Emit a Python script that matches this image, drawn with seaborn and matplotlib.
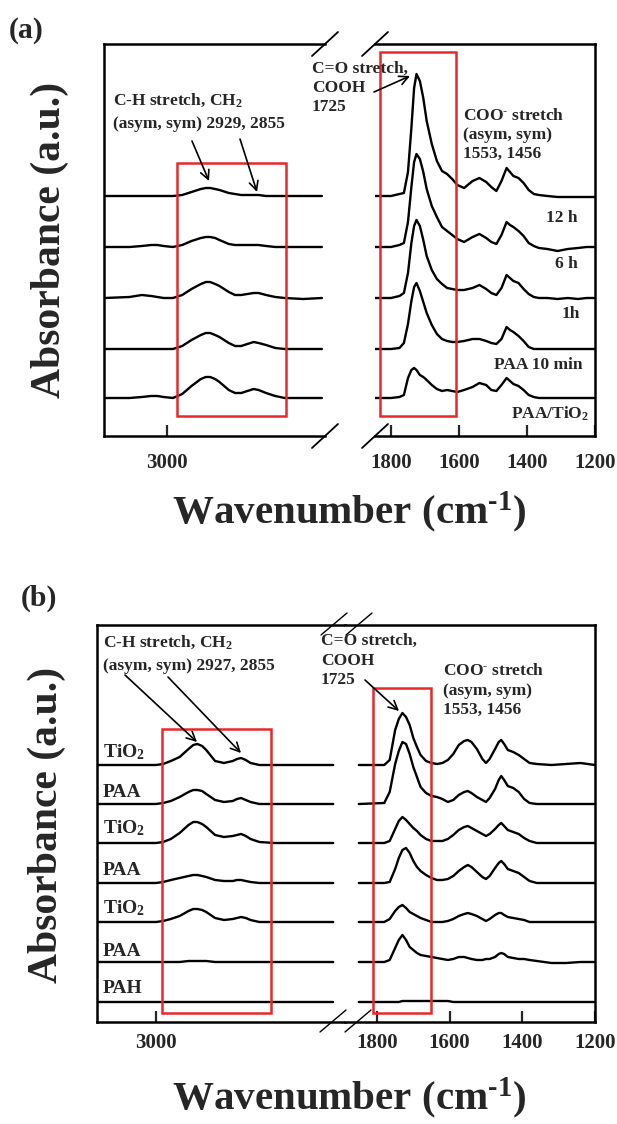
import matplotlib
matplotlib.use("Agg")
import matplotlib.pyplot as plt
from matplotlib.lines import Line2D
from matplotlib.patches import Rectangle, FancyArrowPatch
import seaborn as sns
import pandas as pd

# ---------------- panel (a): PAA on TiO2, adsorption time ----------------
A_WN_CH = [3100, 3060, 3040, 3025, 3015, 3005, 2990, 2975, 2960, 2945, 2937, 2930, 2922,
           2915, 2900, 2890, 2880, 2870, 2860, 2852, 2840, 2825, 2810, 2780, 2750]
A_12H_CH = [0, 0, 0, 0, 0, 0, 0, 1, 4, 7, 8, 8, 7, 6, 3, 2, 1, 1, 1, 1, 0, 0, 0, 0, 0]
A_6H_CH = [0, 0, 1, 2, 2, 1, 0, 2, 6, 9, 10, 10, 9, 7, 3, 2, 2, 2, 2, 2, 1, 0, 0, 0, 0]
A_1H_CH = [0, 1, 3, 2, 1, 0, 0, 3, 9, 14, 16, 16, 14, 12, 6, 3, 3, 4, 5, 5, 3, 1, 0, -1, 0]
A_10MIN_CH = [0, 0, 0, 0, 0, 0, 0, 3, 9, 14, 16, 16, 14, 12, 6, 3, 3, 5, 7, 6, 4, 1, 0, 0, 0]
A_PAATIO2_CH = [0, 0, 1, 2, 2, 1, 0, 4, 12, 19, 21, 21, 19, 16, 8, 5, 5, 7, 9, 8, 5, 2, 0, 0, 0]

A_WN_CO = [1850, 1800, 1775, 1762, 1750, 1740, 1732, 1725, 1715, 1705, 1695, 1680, 1665,
           1650, 1635, 1620, 1605, 1585, 1560, 1540, 1520, 1505, 1490, 1475, 1460, 1450,
           1440, 1425, 1410, 1395, 1380, 1365, 1340, 1310, 1280, 1250, 1225, 1200]
A_12H_CO = [0, 0, 2, 3, 24, 68, 108, 122, 115, 98, 75, 52, 35, 25, 22, 17, 11, 8, 15, 18,
            14, 9, 5, 15, 28, 24, 20, 18, 13, 6, 2, 1, 0, -1, -1, -1, -1, -1]
A_6H_CO = [0, 0, 2, 4, 25, 60, 85, 93, 88, 75, 58, 41, 30, 20, 16, 12, 8, 5, 10, 13,
           9, 5, 3, 12, 25, 22, 20, 16, 11, 4, 1, -1, -2, -4, -2, -1, 0, 0]
A_1H_CO = [0, 0, 2, 5, 25, 55, 72, 78, 72, 58, 42, 28, 19, 14, 10, 9, 8, 8, 10, 13,
           9, 5, 3, 10, 23, 20, 17, 15, 9, 4, 1, 0, 0, -1, 0, -1, 0, 0]
A_10MIN_CO = [0, 0, 1, 6, 25, 48, 62, 66, 58, 47, 36, 24, 15, 10, 8, 7, 7, 8, 10, 10,
              8, 6, 5, 10, 22, 19, 17, 13, 8, 2, 0, 0, 0, 0, 0, 0, 0, 0]
A_PAATIO2_CO = [0, 0, 1, 3, 20, 28, 30, 28, 23, 21, 18, 13, 9, 7, 8, 7, 6, 8, 11, 15,
                13, 8, 7, 13, 20, 17, 14, 12, 8, 3, 1, 0, 0, 0, 0, 0, 0, 0]

A_LABELS = ["12 h", "6 h", "1h", "PAA 10 min", "PAA/TiO$_2$"]
A_OFFSETS = [240, 189, 138, 87, 38]

# ---------------- panel (b): layer-by-layer PAH/PAA/TiO2 ----------------
B_WN_CH = [3100, 3050, 3000, 2988, 2975, 2960, 2945, 2937, 2930, 2922, 2915, 2900,
           2885, 2870, 2863, 2856, 2848, 2840, 2825, 2800, 2750, 2700]
B_TIO2_3_CH = [0, 0, 0, 1, 4, 8, 16, 20, 21, 19, 15, 4, 2, 4, 6, 7, 5, 2, 0, 0, 0, 0]
B_PAA_3_CH = [0, 0, 0, 1, 3, 7, 12, 14, 14, 13, 10, 4, 2, 3, 5, 6, 4, 2, 0, 0, 0, 0]
B_TIO2_2_CH = [0, 0, 0, 1, 4, 10, 18, 21, 21, 19, 16, 8, 6, 7, 8, 9, 7, 4, 1, 0, 0, 0]
B_PAA_2_CH = [0, 0, 0, 1, 3, 5, 7, 8, 8, 7, 6, 3, 2, 2, 3, 3, 2, 1, 0, 0, 0, 0]
B_TIO2_1_CH = [0, 0, 0, 1, 3, 6, 11, 13, 13, 12, 10, 4, 2, 3, 4, 5, 4, 2, 0, 0, 0, 0]
B_PAA_1_CH = [0, 0, 0, 0, 0, 0, 1, 1, 1, 1, 1, 0, 0, 0, 0, 0, 0, 0, 0, 0, 0, 0]
B_PAH_CH = [0, 0, 0, 0, 0, 0, 0, 0, 0, 0, 0, 0, 0, 0, 0, 0, 0, 0, 0, 0, 0, 0]

B_WN_CO = [1850, 1780, 1765, 1750, 1740, 1730, 1720, 1710, 1700, 1690, 1680, 1665, 1650,
           1635, 1620, 1605, 1590, 1575, 1560, 1550, 1540, 1525, 1510, 1500, 1490, 1475,
           1465, 1458, 1450, 1440, 1425, 1410, 1395, 1380, 1360, 1320, 1280, 1240, 1200]
B_TIO2_3_CO = [0, 0, 5, 35, 46, 52, 48, 40, 27, 18, 10, 4, 2, 1, 2, 5, 11, 20, 24, 25,
               23, 16, 6, 2, 6, 16, 23, 25, 21, 15, 13, 10, 6, 2, 1, 0, 1, 2, 0]
B_PAA_3_CO = [0, 1, 12, 40, 53, 62, 60, 50, 37, 27, 17, 11, 8, 7, 5, 2, 4, 9, 12, 13,
              11, 7, 4, 2, 6, 15, 24, 28, 24, 18, 16, 12, 5, 1, 0, 0, 0, 0, 0]
B_TIO2_2_CO = [0, 0, 2, 14, 22, 26, 23, 19, 15, 12, 8, 4, 2, 2, 2, 4, 8, 13, 16, 17,
               15, 12, 9, 7, 9, 14, 18, 20, 17, 13, 11, 9, 5, 2, 0, 0, 0, 0, 0]
B_PAA_2_CO = [0, 0, 1, 14, 25, 33, 35, 30, 22, 16, 12, 8, 5, 3, 3, 4, 7, 12, 16, 18,
              16, 11, 6, 4, 7, 15, 20, 22, 19, 14, 12, 10, 6, 2, 0, 0, 0, 0, 0]
B_TIO2_1_CO = [0, 0, 3, 11, 15, 17, 14, 10, 8, 6, 4, 2, 0, 0, 0, 1, 3, 6, 8, 9,
               8, 6, 3, 1, 3, 7, 9, 9, 7, 5, 4, 3, 2, 0, 0, 0, 0, 0, 0]
B_PAA_1_CO = [0, 0, 2, 14, 22, 27, 22, 15, 12, 9, 7, 6, 5, 4, 3, 2, 3, 5, 5, 4,
              3, 2, 2, 3, 3, 5, 8, 9, 8, 5, 4, 3, 3, 2, 1, -1, -1, 0, 0]
B_PAH_CO = [0, 0, 0, 0, 0, 1, 1, 1, 1, 1, 1, 1, 1, 1, 1, 1, 0, 0, 0, 0,
            0, 0, 0, 0, 0, 0, 0, 0, 0, 0, 0, 0, 0, 0, 0, 0, 0, 0, 0]

B_LABELS = ["TiO$_2$", "PAA", "TiO$_2$", "PAA", "TiO$_2$", "PAA", "PAH"]
B_OFFSETS = [257, 218, 179, 139, 100, 60, 20]

# ---------------- style ----------------
sns.set_theme(style="ticks")
plt.rcParams["font.family"] = ["Liberation Serif", "DejaVu Serif"]
plt.rcParams["font.weight"] = "bold"
plt.rcParams["mathtext.fontset"] = "custom"
plt.rcParams["mathtext.rm"] = "Liberation Serif:bold"
plt.rcParams["mathtext.bf"] = "Liberation Serif:bold"
plt.rcParams["mathtext.it"] = "Liberation Serif:bold"
plt.rcParams["mathtext.default"] = "rm"

W, H = 617, 1124
RED = "#e8282b"
HY = "\u2010"  # short hyphen for superscripts
fig = plt.figure(figsize=(W / 100, H / 100), dpi=100)


def box(x0, y0, x1, y1):
    return [x0 / W, 1 - y1 / H, (x1 - x0) / W, (y1 - y0) / H]


def fpos(x, y):
    return (x / W, 1 - y / H)


def draw(ax, wn, traces, offsets, xlim, ylim, ticks, pad, hide):
    rows = []
    for i, (vals, off) in enumerate(zip(traces, offsets)):
        for w, v in zip(wn, vals):
            rows.append((i, w, v + off))
    df = pd.DataFrame(rows, columns=["trace", "wavenumber", "absorbance"])
    sns.lineplot(data=df, x="wavenumber", y="absorbance", units="trace",
                 estimator=None, color="black", lw=1.7, ax=ax, legend=False)
    ax.set_xlim(*xlim)
    ax.set_ylim(*ylim)
    ax.set_xlabel("")
    ax.set_ylabel("")
    ax.set_yticks([])
    ax.set_xticks(ticks)
    ax.tick_params(axis="x", direction="in", length=8, width=1.6,
                   labelsize=15, pad=pad)
    for t in ax.get_xticklabels():
        t.set_fontweight("bold")
    for s in ax.spines.values():
        s.set_linewidth(1.8)
        s.set_color("black")
    ax.spines[hide].set_visible(False)


def red_box(ax, w0, w1, y0, y1):
    ax.add_patch(Rectangle((min(w0, w1), y0), abs(w1 - w0), y1 - y0, fill=False,
                           edgecolor=RED, lw=1.8, clip_on=False, zorder=5))


def txt(x, y, s, size=12.5, ha="left"):
    fig.text(*fpos(x, y), s, fontsize=size, ha=ha, va="baseline", fontweight="bold")


def arrow(tail, head):
    fig.add_artist(FancyArrowPatch(fpos(*tail), fpos(*head), transform=fig.transFigure,
                                   arrowstyle="->", mutation_scale=16, lw=1.2,
                                   color="black", shrinkA=0, shrinkB=0))


def slash(cx, cy, dx=13, dy=12, lw=1.3):
    x0, y0 = fpos(cx - dx, cy + dy)
    x1, y1 = fpos(cx + dx, cy - dy)
    fig.add_artist(Line2D([x0, x1], [y0, y1], transform=fig.transFigure,
                          color="black", lw=lw))


# ---------------- panel (a) ----------------
axL = fig.add_axes(box(104, 44, 325, 436))
axR = fig.add_axes(box(375, 44, 595, 436))
draw(axL, A_WN_CH, [A_12H_CH, A_6H_CH, A_1H_CH, A_10MIN_CH, A_PAATIO2_CH],
     A_OFFSETS, (3101, 2745), (0, 392), [3000], 12, "right")
draw(axR, A_WN_CO, [A_12H_CO, A_6H_CO, A_1H_CO, A_10MIN_CO, A_PAATIO2_CO],
     A_OFFSETS, (1847, 1200), (0, 392), [1800, 1600, 1400, 1200], 12, "left")
red_box(axL, 2984, 2808, 20, 273)
red_box(axR, 1832, 1609, 20, 384)
for cx in (325, 375):
    slash(cx, 44)
    slash(cx, 436)

txt(9, 38, "(a)", size=21.5)
txt(113, 105, "C-H stretch, CH$_2$")
txt(113, 128, "(asym, sym) 2929, 2855")
arrow((192, 141), (209, 181))
arrow((240, 139), (257, 192))
txt(312, 73, "C=O stretch,")
txt(312, 92, "COOH")
txt(312, 111, "1725")
arrow((374, 92), (410, 76))
txt(463, 120, "COO$^{" + HY + "}$ stretch")
txt(463, 139, "(asym, sym)")
txt(463, 158, "1553, 1456")
for lab, x, y in zip(A_LABELS, [578, 578, 580, 583, 589], [222, 268, 318, 369, 419]):
    txt(x, y, lab, ha="right")

fig.text(*fpos(50, 240), "Absorbance (a.u.)", rotation=90, ha="center",
         va="center", fontsize=30, fontweight="bold")
fig.text(*fpos(349, 512), "Wavenumber (cm$^{" + HY + "1}$)", ha="center",
         va="center", fontsize=29.5, fontweight="bold")

# ---------------- panel (b) ----------------
bxL = fig.add_axes(box(97, 625, 345, 1022))
bxR = fig.add_axes(box(345, 625, 595, 1022))
draw(bxL, B_WN_CH, [B_TIO2_3_CH, B_PAA_3_CH, B_TIO2_2_CH, B_PAA_2_CH, B_TIO2_1_CH,
                    B_PAA_1_CH, B_PAH_CH],
     B_OFFSETS, (3100, 2680), (0, 397), [3000], 8, "right")
draw(bxR, B_WN_CO, [B_TIO2_3_CO, B_PAA_3_CO, B_TIO2_2_CO, B_PAA_2_CO, B_TIO2_1_CO,
                    B_PAA_1_CO, B_PAH_CO],
     B_OFFSETS, (1888, 1200), (0, 397), [1800, 1600, 1400, 1200], 8, "left")
red_box(bxL, 2990, 2805, 9, 293)
red_box(bxR, 1811, 1651, 9, 334)
for cx in (334, 359):
    slash(cx, 624, dx=13, dy=11, lw=1.0)
for cx in (333, 358):
    slash(cx, 1021, dx=13, dy=11, lw=1.0)

txt(21, 606, "(b)", size=21.5)
txt(103, 647, "C-H stretch, CH$_2$")
txt(103, 670, "(asym, sym) 2927, 2855")
arrow((125, 675), (197, 742))
arrow((168, 677), (241, 753))
txt(321, 645, "C=O stretch,")
txt(321, 665, "COOH")
txt(321, 684, "1725")
arrow((365, 680), (399, 711))
txt(443, 675, "COO$^{" + HY + "}$ stretch")
txt(443, 695, "(asym, sym)")
txt(443, 714, "1553, 1456")
for lab, y in zip(B_LABELS, [757, 797, 833, 875, 913, 956, 993]):
    txt(103, y, lab, size=14)

fig.text(*fpos(47, 825), "Absorbance (a.u.)", rotation=90, ha="center",
         va="center", fontsize=30, fontweight="bold")
fig.text(*fpos(349, 1098), "Wavenumber (cm$^{" + HY + "1}$)", ha="center",
         va="center", fontsize=29.5, fontweight="bold")

fig.savefig("out.png", dpi=100, facecolor="white")
